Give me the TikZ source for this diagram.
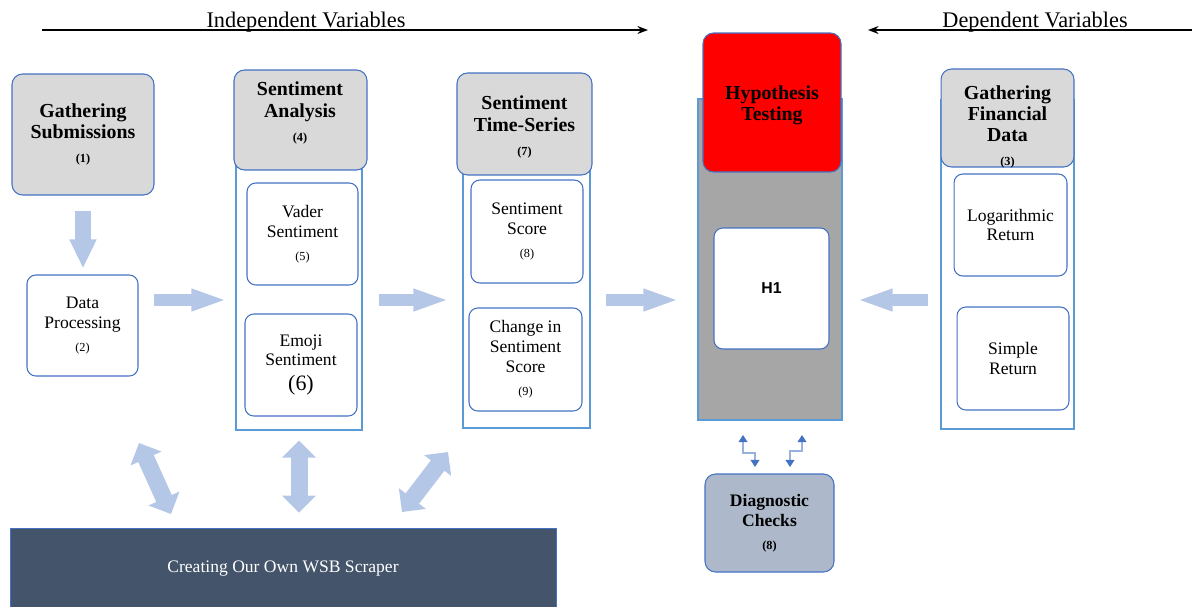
\documentclass[tikz,border=0pt]{standalone}
\usepackage{fontspec}
\setmainfont{Liberation Serif}
\newfontfamily\hfont{Liberation Sans}
\usepackage{tikz}
\usetikzlibrary{positioning,arrows.meta,calc}

\definecolor{boxblue}{HTML}{4472C4}
\definecolor{colblue}{HTML}{5B9BD5}
\definecolor{hdrgray}{HTML}{D9D9D9}
\definecolor{colgray}{HTML}{A6A6A6}
\definecolor{flowblue}{HTML}{B4C7E7}
\definecolor{diaggray}{HTML}{ADB9CA}
\definecolor{scrapebg}{HTML}{44546A}

\newcommand{\numtag}[1]{\\[1.8pt]{\fontsize{7}{8}\selectfont #1}}

\begin{document}
\begin{tikzpicture}[
  x=0.02cm, y=-0.02cm,
  hdr/.style={draw=boxblue, fill=hdrgray, rounded corners=6pt, line width=0.6pt},
  ttl/.style={align=center, inner sep=0pt, font=\fontsize{11.3}{12}\selectfont\bfseries},
  col/.style={draw=colblue, fill=white, line width=0.7pt},
  item/.style={draw=boxblue, fill=white, rounded corners=5pt, line width=0.6pt,
               align=center, font=\fontsize{10}{11.3}\selectfont},
  var/.style={anchor=base, inner sep=0pt, font=\fontsize{12.7}{15}\selectfont},
  varr/.style={line width=0.9pt, -{Stealth[length=6pt,width=4.5pt]}},
  fat/.style={flowblue, line width=0.24cm, -{Triangle[length=0.72cm,width=0.4cm]}},
  dfat/.style={flowblue, line width=0.34cm,
               {Triangle[length=0.34cm,width=0.66cm]}-{Triangle[length=0.34cm,width=0.66cm]}},
  elb/.style={draw=boxblue!55, line width=0.6pt,
              {Triangle[length=4pt,width=5pt,color=boxblue]}-{Triangle[length=4pt,width=5pt,color=boxblue]}},
]
\useasboundingbox (0,0) rectangle (1192,606);

% variable arrows
\coordinate (ivs) at (42,30);
\coordinate (ive) at (648,30);
\coordinate (dvs) at (1192,30);
\coordinate (dve) at (868,30);
\draw[varr] (ivs) -- (ive);
\draw[varr] (dvs) -- (dve);
\node[var] (ivl) at (306,27) {Independent Variables};
\node[var] (dvl) at (1035,27) {Dependent Variables};

% gathering + processing
\node[hdr, ttl, minimum width=2.84cm, minimum height=2.42cm] (gs) at (83,134.5) {Gathering\\Submissions\numtag{(1)}};
\node[item, minimum width=2.22cm, minimum height=2.02cm] (dp) at (82.5,325.5) {Data\\Processing\numtag{(2)}};

% sentiment analysis
\node[col, minimum width=2.52cm, minimum height=6.6cm] (sa) at (299,265) {};
\node[hdr, minimum width=2.66cm, minimum height=2.0cm] (sah) at (300.5,120) {};
\node[ttl] (sat) at (300,113) {Sentiment\\Analysis\numtag{(4)}};
\node[item, minimum width=2.22cm, minimum height=2.04cm] (va) at (302.5,234) {Vader\\Sentiment\numtag{(5)}};
\node[item, minimum width=2.24cm, minimum height=2.04cm] (em) at (301,365) {Emoji\\Sentiment\\[3pt]{\fontsize{12.5}{14}\selectfont (6)}};

% sentiment time-series
\node[col, minimum width=2.54cm, minimum height=6.56cm] (st) at (526.5,264) {};
\node[hdr, minimum width=2.7cm, minimum height=2.04cm] (sth) at (524.5,124) {};
\node[ttl] (stt) at (524.5,127) {Sentiment\\Time-Series\numtag{(7)}};
\node[item, minimum width=2.24cm, minimum height=2.06cm] (ss) at (527,231.5) {Sentiment\\Score\numtag{(8)}};
\node[item, minimum width=2.26cm, minimum height=2.06cm] (cs) at (525.5,359.5) {Change in\\Sentiment\\Score\numtag{(9)}};

% hypothesis testing
\node[col, fill=colgray, minimum width=2.88cm, minimum height=6.42cm] (ht) at (770,259.5) {};
\node[hdr, fill=red, minimum width=2.76cm, minimum height=2.78cm] (hth) at (772,102.5) {};
\node[ttl] (htt) at (772,105) {Hypothesis\\Testing};
\node[item, minimum width=2.3cm, minimum height=2.42cm, font=\hfont\bfseries\fontsize{9}{10}\selectfont] (h1) at (771.5,288.5) {H1};

% financial data
\node[col, minimum width=2.66cm, minimum height=6.58cm] (fd) at (1007.5,264.5) {};
\node[hdr, minimum width=2.66cm, minimum height=1.96cm] (fdh) at (1007.5,118) {};
\node[ttl] (fdt) at (1007.5,127) {Gathering\\Financial\\Data\numtag{(3)}};
\node[item, minimum width=2.26cm, minimum height=2.04cm] (lr) at (1010.5,225) {Logarithmic\\Return};
\node[item, minimum width=2.24cm, minimum height=2.06cm] (sr) at (1013,358.5) {Simple\\Return};

% diagnostics and scraper
\node[hdr, ttl, fill=diaggray, minimum width=2.58cm, minimum height=1.96cm,
      font=\fontsize{10}{11.5}\selectfont\bfseries] (dc) at (769.5,523) {Diagnostic\\Checks\numtag{(8)}};
\node[draw=boxblue, fill=scrapebg, text=white, minimum width=10.92cm, minimum height=1.64cm,
      font=\fontsize{10}{12}\selectfont] (ws) at (283,569) {Creating Our Own WSB Scraper};

% flow arrows
\coordinate (flow) at (0,300);
\draw[fat, line width=0.34cm, -{Triangle[length=0.58cm,width=0.5cm]}, shorten <=0.3cm, shorten >=0.12cm]
  (gs.south) -- (gs.south |- dp.north);
\draw[fat, shorten <=0.3cm, shorten >=0.16cm] (dp.east |- flow) -- (sa.west |- flow);
\draw[fat, shorten <=0.32cm, shorten >=0.26cm] (sa.east |- flow) -- (st.west |- flow);
\draw[fat, shorten <=0.3cm, shorten >=0.36cm] (st.east |- flow) -- (ht.west |- flow);
\draw[fat, shorten <=0.24cm, shorten >=0.28cm] (fd.west |- flow) -- (ht.east |- flow);

% scraper links
\coordinate (w1a) at (139,443);
\coordinate (w1b) at (171,514);
\coordinate (w3a) at (448,452);
\coordinate (w3b) at (402,512);
\draw[dfat] (w1a) -- (w1b);
\draw[dfat] ([yshift=-0.2cm]sa.south) -- ([yshift=0.3cm]sa.south |- ws.north);
\draw[dfat] (w3a) -- (w3b);

% diagnostic links
\coordinate (e1) at (743,435);
\coordinate (e2) at (755,467);
\coordinate (e3) at (790,467);
\coordinate (e4) at (802,435);
\draw[elb] (e1) -- ++(0,18) -| (e2);
\draw[elb] (e3) -- ++(0,-16) -| (e4);
\end{tikzpicture}
\end{document}
